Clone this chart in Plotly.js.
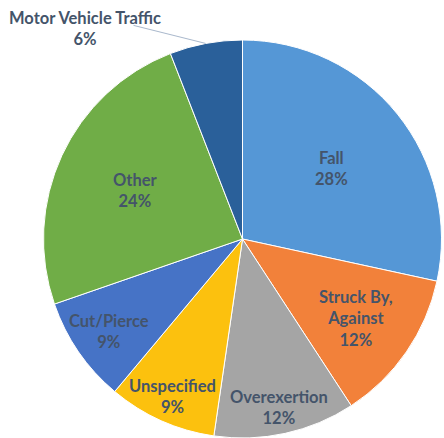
<!DOCTYPE html>
<html><head><meta charset="utf-8">
<script src="https://cdn.plot.ly/plotly-3.0.1.min.js"></script>
<style>html,body{margin:0;padding:0;background:#fff}#chart{width:444px;height:438px}</style>
</head><body><div id="chart"></div>
<script>
const categories = ["Fall", "Struck By,<br>Against", "Overexertion", "Unspecified", "Cut/Pierce", "Other", "Motor Vehicle Traffic"];
const values = [28.4, 12.4, 11.5, 8.8, 8.6, 24.4, 5.9];
const colors = ["#5597d6", "#f2813a", "#a5a5a5", "#fcc10e", "#4673c6", "#70ad47", "#2a609a"];
// label placement (fraction of radius along slice mid-angle); <0 means outside label
const labelRadius = [0.57, 0.69, 0.86, 0.86, 0.81, 0.59, -1];

const W = 444, H = 438;
const dom = {x0: 42, x1: 443, y0: 40, y1: 440};
const cx = (dom.x0 + dom.x1) / 2, cy = (dom.y0 + dom.y1) / 2;
const R = Math.min(dom.x1 - dom.x0, dom.y1 - dom.y0) / 2;
const total = values.reduce((a, b) => a + b, 0);
const font = {family: "Lato, 'Open Sans', sans-serif", size: 16.5, color: "#44546a", weight: "bold"};

const annotations = [];
let cum = 0;
values.forEach((v, i) => {
  const mid = (cum + v / 2) / total * 2 * Math.PI;
  cum += v;
  const pct = Math.round(v / total * 100) + "%";
  const txt = "<b>" + categories[i] + "<br>" + pct + "</b>";
  if (labelRadius[i] > 0) {
    const px = cx + R * labelRadius[i] * Math.sin(mid);
    const py = cy - R * labelRadius[i] * Math.cos(mid);
    annotations.push({x: px / W, y: 1 - py / H, xref: "paper", yref: "paper", text: txt,
      showarrow: false, font: font, xanchor: "center", yanchor: "middle"});
  } else {
    const ex = cx + R * Math.sin(mid), ey = cy - R * Math.cos(mid);
    annotations.push({x: ex / W, y: 1 - ey / H, xref: "paper", yref: "paper", text: " ",
      showarrow: true, arrowhead: 0, arrowwidth: 1, arrowcolor: "#a9b8cc", ax: 132 - ex, ay: 25 - ey,
      font: {size: 1}});
    annotations.push({x: 85 / W, y: 1 - 28 / H, xref: "paper", yref: "paper", text: txt,
      showarrow: false, font: font, xanchor: "center", yanchor: "middle"});
  }
});

const data = [{
  type: "pie",
  labels: categories,
  values: values,
  sort: false,
  direction: "clockwise",
  rotation: 0,
  textinfo: "none",
  hoverinfo: "label+percent",
  marker: {colors: colors, line: {color: "#ffffff", width: 1}},
  domain: {x: [dom.x0 / W, dom.x1 / W], y: [0, 1 - dom.y0 / H]}
}];

const layout = {
  width: W, height: H,
  margin: {l: 0, r: 0, t: 0, b: 0},
  showlegend: false,
  paper_bgcolor: "#ffffff",
  annotations: annotations
};
Plotly.newPlot("chart", data, layout, {displayModeBar: false, staticPlot: true});
</script></body></html>
